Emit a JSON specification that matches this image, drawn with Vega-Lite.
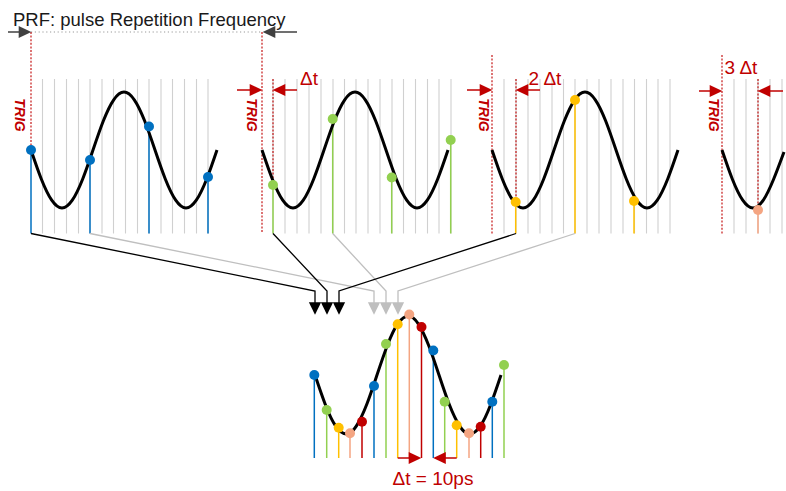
{
  "$schema": "https://vega.github.io/schema/vega-lite/v6.json",
  "width": 786,
  "height": 491,
  "autosize": {"type": "fit", "contains": "padding"},
  "padding": 0,
  "background": "white",
  "config": {"view": {"stroke": null}, "legend": {"disable": true}},
  "resolve": {"scale": {"color": "independent", "shape": "independent"}},
  "datasets": {
    "grid": [
      {"x": 42.5, "y": 79, "y2": 233.5}, {"x": 54.5, "y": 79, "y2": 233.5}, {"x": 66.5, "y": 79, "y2": 233.5}, {"x": 78.5, "y": 79, "y2": 233.5}, {"x": 90, "y": 79, "y2": 233.5}, {"x": 102, "y": 79, "y2": 233.5}, {"x": 113.5, "y": 79, "y2": 233.5}, {"x": 125.5, "y": 79, "y2": 233.5}, {"x": 137.5, "y": 79, "y2": 233.5}, {"x": 149, "y": 79, "y2": 233.5}, {"x": 161, "y": 79, "y2": 233.5}, {"x": 172.5, "y": 79, "y2": 233.5}, {"x": 184.5, "y": 79, "y2": 233.5}, {"x": 196.5, "y": 79, "y2": 233.5}, {"x": 208, "y": 79, "y2": 233.5},
      {"x": 273, "y": 79, "y2": 233.5}, {"x": 285, "y": 79, "y2": 233.5}, {"x": 297, "y": 79, "y2": 233.5}, {"x": 309, "y": 79, "y2": 233.5}, {"x": 321, "y": 79, "y2": 233.5}, {"x": 333, "y": 79, "y2": 233.5}, {"x": 344.5, "y": 79, "y2": 233.5}, {"x": 356, "y": 79, "y2": 233.5}, {"x": 368, "y": 79, "y2": 233.5}, {"x": 380, "y": 79, "y2": 233.5}, {"x": 392, "y": 79, "y2": 233.5}, {"x": 403.5, "y": 79, "y2": 233.5}, {"x": 415.5, "y": 79, "y2": 233.5}, {"x": 427.5, "y": 79, "y2": 233.5}, {"x": 439, "y": 79, "y2": 233.5}, {"x": 451, "y": 79, "y2": 233.5},
      {"x": 504, "y": 79, "y2": 233.5}, {"x": 516, "y": 79, "y2": 233.5}, {"x": 528, "y": 79, "y2": 233.5}, {"x": 540, "y": 79, "y2": 233.5}, {"x": 552, "y": 79, "y2": 233.5}, {"x": 563.5, "y": 79, "y2": 233.5}, {"x": 575, "y": 79, "y2": 233.5}, {"x": 587, "y": 79, "y2": 233.5}, {"x": 599, "y": 79, "y2": 233.5}, {"x": 611, "y": 79, "y2": 233.5}, {"x": 623, "y": 79, "y2": 233.5}, {"x": 634.5, "y": 79, "y2": 233.5}, {"x": 646.5, "y": 79, "y2": 233.5}, {"x": 658, "y": 79, "y2": 233.5}, {"x": 670, "y": 79, "y2": 233.5},
      {"x": 734, "y": 79, "y2": 233.5}, {"x": 746, "y": 79, "y2": 233.5}, {"x": 758, "y": 79, "y2": 233.5}, {"x": 770, "y": 79, "y2": 233.5}, {"x": 782, "y": 79, "y2": 233.5}
    ],
    "trigLines": [
      {"x": 31, "y": 32, "y2": 150},
      {"x": 262, "y": 32, "y2": 233.5},
      {"x": 273, "y": 79, "y2": 185},
      {"x": 492, "y": 55, "y2": 233.5},
      {"x": 516, "y": 79, "y2": 202},
      {"x": 722, "y": 55, "y2": 233.5},
      {"x": 758, "y": 79, "y2": 210}
    ],
    "prf": [{"x": 31, "x2": 262, "y": 32}],
    "samples": [
      {"pulse": "pulse 1", "x": 31, "y": 150, "base": 233.5},
      {"pulse": "pulse 1", "x": 90, "y": 160, "base": 233.5},
      {"pulse": "pulse 1", "x": 149, "y": 126.5, "base": 233.5},
      {"pulse": "pulse 1", "x": 208, "y": 177, "base": 233.5},
      {"pulse": "pulse 2", "x": 273, "y": 185, "base": 233.5},
      {"pulse": "pulse 2", "x": 332.7, "y": 119, "base": 233.5},
      {"pulse": "pulse 2", "x": 391.7, "y": 177.5, "base": 233.5},
      {"pulse": "pulse 2", "x": 450.7, "y": 140, "base": 233.5},
      {"pulse": "pulse 3", "x": 515.7, "y": 202, "base": 233.5},
      {"pulse": "pulse 3", "x": 575, "y": 100, "base": 233.5},
      {"pulse": "pulse 3", "x": 634, "y": 201, "base": 233.5},
      {"pulse": "pulse 4", "x": 758, "y": 210, "base": 233.5},
      {"pulse": "pulse 1", "x": 314.3, "y": 375, "base": 458},
      {"pulse": "pulse 2", "x": 326.7, "y": 410, "base": 458},
      {"pulse": "pulse 3", "x": 338.7, "y": 427.7, "base": 458},
      {"pulse": "pulse 4", "x": 350, "y": 433.3, "base": 458},
      {"pulse": "pulse 5", "x": 362, "y": 421.7, "base": 458},
      {"pulse": "pulse 1", "x": 374, "y": 386, "base": 458},
      {"pulse": "pulse 2", "x": 386, "y": 344, "base": 458},
      {"pulse": "pulse 3", "x": 397.7, "y": 324.3, "base": 458},
      {"pulse": "pulse 4", "x": 409.3, "y": 314.5, "base": 458},
      {"pulse": "pulse 5", "x": 421.5, "y": 327, "base": 458},
      {"pulse": "pulse 1", "x": 433.3, "y": 350.5, "base": 458},
      {"pulse": "pulse 2", "x": 444.7, "y": 401.7, "base": 458},
      {"pulse": "pulse 3", "x": 456.7, "y": 425.3, "base": 458},
      {"pulse": "pulse 4", "x": 469, "y": 433.3, "base": 458},
      {"pulse": "pulse 5", "x": 480.7, "y": 426.7, "base": 458},
      {"pulse": "pulse 1", "x": 492.3, "y": 401.7, "base": 458},
      {"pulse": "pulse 2", "x": 504, "y": 365, "base": 458}
    ],
    "links": [
      {"route": "a", "tone": "black", "step": 1, "x": 31, "y": 233.5},
      {"route": "a", "tone": "black", "step": 2, "x": 315, "y": 291},
      {"route": "a", "tone": "black", "step": 3, "x": 315, "y": 303},
      {"route": "b", "tone": "black", "step": 1, "x": 273, "y": 233.5},
      {"route": "b", "tone": "black", "step": 2, "x": 327, "y": 291},
      {"route": "b", "tone": "black", "step": 3, "x": 327, "y": 303},
      {"route": "c", "tone": "black", "step": 1, "x": 516, "y": 233.5},
      {"route": "c", "tone": "black", "step": 2, "x": 339, "y": 291},
      {"route": "c", "tone": "black", "step": 3, "x": 339, "y": 303},
      {"route": "d", "tone": "gray", "step": 1, "x": 90, "y": 233.5},
      {"route": "d", "tone": "gray", "step": 2, "x": 374, "y": 291},
      {"route": "d", "tone": "gray", "step": 3, "x": 374, "y": 303},
      {"route": "e", "tone": "gray", "step": 1, "x": 332.7, "y": 233.5},
      {"route": "e", "tone": "gray", "step": 2, "x": 386, "y": 291},
      {"route": "e", "tone": "gray", "step": 3, "x": 386, "y": 303},
      {"route": "f", "tone": "gray", "step": 1, "x": 575, "y": 233.5},
      {"route": "f", "tone": "gray", "step": 2, "x": 398, "y": 291},
      {"route": "f", "tone": "gray", "step": 3, "x": 398, "y": 303}
    ],
    "shafts": [
      {"tone": "dark", "x": 8, "x2": 28, "y": 32},
      {"tone": "dark", "x": 266, "x2": 297, "y": 32},
      {"tone": "red", "x": 237, "x2": 258, "y": 90},
      {"tone": "red", "x": 277, "x2": 297, "y": 90},
      {"tone": "red", "x": 467, "x2": 488, "y": 90},
      {"tone": "red", "x": 520, "x2": 540, "y": 90},
      {"tone": "red", "x": 699, "x2": 718, "y": 91},
      {"tone": "red", "x": 762, "x2": 783, "y": 91},
      {"tone": "red", "x": 397.7, "x2": 417, "y": 458},
      {"tone": "red", "x": 437, "x2": 456.7, "y": 458}
    ],
    "heads": [
      {"tone": "dark", "dir": "right", "x": 25, "y": 32},
      {"tone": "dark", "dir": "left", "x": 269, "y": 32},
      {"tone": "red", "dir": "right", "x": 256, "y": 90},
      {"tone": "red", "dir": "left", "x": 279, "y": 90},
      {"tone": "red", "dir": "right", "x": 486, "y": 90},
      {"tone": "red", "dir": "left", "x": 522, "y": 90},
      {"tone": "red", "dir": "right", "x": 716, "y": 91},
      {"tone": "red", "dir": "left", "x": 764, "y": 91},
      {"tone": "red", "dir": "right", "x": 415, "y": 458},
      {"tone": "red", "dir": "left", "x": 439.5, "y": 458},
      {"tone": "black", "dir": "down", "x": 315, "y": 308.5},
      {"tone": "black", "dir": "down", "x": 327, "y": 308.5},
      {"tone": "black", "dir": "down", "x": 339, "y": 308.5},
      {"tone": "light", "dir": "down", "x": 374, "y": 308.5},
      {"tone": "light", "dir": "down", "x": 386, "y": 308.5},
      {"tone": "light", "dir": "down", "x": 398, "y": 308.5}
    ],
    "waves": [
      {"trace": "w1", "x": 31, "y": 150}, {"trace": "w1", "x": 41.3, "y": 179}, {"trace": "w1", "x": 51.7, "y": 200.2}, {"trace": "w1", "x": 62, "y": 208}, {"trace": "w1", "x": 72.3, "y": 200.2}, {"trace": "w1", "x": 82.7, "y": 179}, {"trace": "w1", "x": 93, "y": 150}, {"trace": "w1", "x": 103.3, "y": 121}, {"trace": "w1", "x": 113.7, "y": 99.8}, {"trace": "w1", "x": 124, "y": 92}, {"trace": "w1", "x": 134.3, "y": 99.8}, {"trace": "w1", "x": 144.7, "y": 121}, {"trace": "w1", "x": 155, "y": 150}, {"trace": "w1", "x": 165.3, "y": 179}, {"trace": "w1", "x": 175.7, "y": 200.2}, {"trace": "w1", "x": 186, "y": 208}, {"trace": "w1", "x": 196.3, "y": 200.2}, {"trace": "w1", "x": 206.7, "y": 179}, {"trace": "w1", "x": 217, "y": 150},
      {"trace": "w2", "x": 262, "y": 150}, {"trace": "w2", "x": 272.3, "y": 179}, {"trace": "w2", "x": 282.7, "y": 200.2}, {"trace": "w2", "x": 293, "y": 208}, {"trace": "w2", "x": 303.3, "y": 200.2}, {"trace": "w2", "x": 313.7, "y": 179}, {"trace": "w2", "x": 324, "y": 150}, {"trace": "w2", "x": 334.3, "y": 121}, {"trace": "w2", "x": 344.7, "y": 99.8}, {"trace": "w2", "x": 355, "y": 92}, {"trace": "w2", "x": 365.3, "y": 99.8}, {"trace": "w2", "x": 375.7, "y": 121}, {"trace": "w2", "x": 386, "y": 150}, {"trace": "w2", "x": 396.3, "y": 179}, {"trace": "w2", "x": 406.7, "y": 200.2}, {"trace": "w2", "x": 417, "y": 208}, {"trace": "w2", "x": 427.3, "y": 200.2}, {"trace": "w2", "x": 437.7, "y": 179}, {"trace": "w2", "x": 448, "y": 150},
      {"trace": "w3", "x": 492, "y": 150}, {"trace": "w3", "x": 502.3, "y": 179}, {"trace": "w3", "x": 512.7, "y": 200.2}, {"trace": "w3", "x": 523, "y": 208}, {"trace": "w3", "x": 533.3, "y": 200.2}, {"trace": "w3", "x": 543.7, "y": 179}, {"trace": "w3", "x": 554, "y": 150}, {"trace": "w3", "x": 564.3, "y": 121}, {"trace": "w3", "x": 574.7, "y": 99.8}, {"trace": "w3", "x": 585, "y": 92}, {"trace": "w3", "x": 595.3, "y": 99.8}, {"trace": "w3", "x": 605.7, "y": 121}, {"trace": "w3", "x": 616, "y": 150}, {"trace": "w3", "x": 626.3, "y": 179}, {"trace": "w3", "x": 636.7, "y": 200.2}, {"trace": "w3", "x": 647, "y": 208}, {"trace": "w3", "x": 657.3, "y": 200.2}, {"trace": "w3", "x": 667.7, "y": 179}, {"trace": "w3", "x": 678, "y": 150},
      {"trace": "w4", "x": 722, "y": 150}, {"trace": "w4", "x": 732.3, "y": 179}, {"trace": "w4", "x": 742.7, "y": 200.2}, {"trace": "w4", "x": 753, "y": 208}, {"trace": "w4", "x": 763.3, "y": 200.2}, {"trace": "w4", "x": 773.7, "y": 179}, {"trace": "w4", "x": 784, "y": 152},
      {"trace": "w5", "x": 315, "y": 375}, {"trace": "w5", "x": 325.3, "y": 404.5}, {"trace": "w5", "x": 335.7, "y": 426.1}, {"trace": "w5", "x": 346.5, "y": 434}, {"trace": "w5", "x": 356.3, "y": 426.1}, {"trace": "w5", "x": 366.7, "y": 404.5}, {"trace": "w5", "x": 377, "y": 375}, {"trace": "w5", "x": 387.3, "y": 345.5}, {"trace": "w5", "x": 397.7, "y": 323.9}, {"trace": "w5", "x": 408.5, "y": 316}, {"trace": "w5", "x": 418.3, "y": 323.9}, {"trace": "w5", "x": 428.7, "y": 345.5}, {"trace": "w5", "x": 439, "y": 375}, {"trace": "w5", "x": 449.3, "y": 404.5}, {"trace": "w5", "x": 459.7, "y": 426.1}, {"trace": "w5", "x": 469.5, "y": 434}, {"trace": "w5", "x": 480.3, "y": 426.1}, {"trace": "w5", "x": 490.7, "y": 404.5}, {"trace": "w5", "x": 501, "y": 375}
    ],
    "labels": [
      {"role": "title", "text": "PRF: pulse Repetition Frequency", "x": 13, "y": 26},
      {"role": "trig", "text": "TRIG", "x": 19, "y": 115},
      {"role": "trig", "text": "TRIG", "x": 251, "y": 115},
      {"role": "trig", "text": "TRIG", "x": 483, "y": 115},
      {"role": "trig", "text": "TRIG", "x": 713, "y": 115},
      {"role": "delta", "text": "Δt", "x": 309, "y": 85},
      {"role": "delta", "text": "2 Δt", "x": 545, "y": 85},
      {"role": "delta", "text": "3 Δt", "x": 741, "y": 73.5},
      {"role": "delta", "text": "Δt = 10ps", "x": 433, "y": 485}
    ]
  },
  "encoding": {
    "x": {"field": "x", "type": "quantitative", "scale": {"domain": [0, 786], "nice": false, "zero": false}, "axis": null},
    "y": {"field": "y", "type": "quantitative", "scale": {"domain": [0, 491], "nice": false, "zero": false, "reverse": true}, "axis": null}
  },
  "layer": [
    {
      "data": {"name": "grid"},
      "mark": {"type": "rule", "stroke": "#D0D0D0", "strokeWidth": 1.1},
      "encoding": {"y2": {"field": "y2"}}
    },
    {
      "data": {"name": "prf"},
      "mark": {"type": "rule", "stroke": "#9A9A9A", "strokeWidth": 1.1, "strokeDash": [1.2, 2.6]},
      "encoding": {"x2": {"field": "x2"}}
    },
    {
      "data": {"name": "trigLines"},
      "mark": {"type": "rule", "stroke": "#C00000", "strokeWidth": 1.1, "strokeDash": [2, 1.6]},
      "encoding": {"y2": {"field": "y2"}}
    },
    {
      "data": {"name": "samples"},
      "mark": {"type": "rule", "strokeWidth": 1.5},
      "encoding": {
        "y2": {"field": "base"},
        "color": {"field": "pulse", "type": "nominal", "legend": null,
          "scale": {"domain": ["pulse 1", "pulse 2", "pulse 3", "pulse 4", "pulse 5"], "range": ["#0070C0", "#92D050", "#FFC000", "#F4A582", "#C00000"]}}
      }
    },
    {
      "data": {"name": "links"},
      "transform": [{"filter": "datum.tone === 'gray'"}],
      "mark": {"type": "line", "stroke": "#BFBFBF", "strokeWidth": 1.3},
      "encoding": {"detail": {"field": "route", "type": "nominal"}, "order": {"field": "step", "type": "quantitative"}}
    },
    {
      "data": {"name": "links"},
      "transform": [{"filter": "datum.tone === 'black'"}],
      "mark": {"type": "line", "stroke": "#000000", "strokeWidth": 1.3},
      "encoding": {"detail": {"field": "route", "type": "nominal"}, "order": {"field": "step", "type": "quantitative"}}
    },
    {
      "data": {"name": "shafts"},
      "mark": {"type": "rule", "strokeWidth": 1.5},
      "encoding": {
        "x2": {"field": "x2"},
        "color": {"field": "tone", "type": "nominal", "legend": null,
          "scale": {"domain": ["dark", "red"], "range": ["#404040", "#C00000"]}}
      }
    },
    {
      "data": {"name": "heads"},
      "mark": {"type": "point", "filled": true, "size": 160, "opacity": 1, "strokeWidth": 0},
      "encoding": {
        "shape": {"field": "dir", "type": "nominal", "legend": null,
          "scale": {"domain": ["right", "left", "down"], "range": ["M-1,-0.95L1,0L-1,0.95Z", "M1,-0.95L-1,0L1,0.95Z", "M-0.97,-1L0.97,-1L0,1Z"]}},
        "color": {"field": "tone", "type": "nominal", "legend": null,
          "scale": {"domain": ["dark", "red", "black", "light"], "range": ["#404040", "#C00000", "#000000", "#BFBFBF"]}}
      }
    },
    {
      "data": {"name": "waves"},
      "mark": {"type": "line", "stroke": "#000000", "strokeWidth": 3, "interpolate": "natural", "clip": true},
      "encoding": {"detail": {"field": "trace", "type": "nominal"}}
    },
    {
      "data": {"name": "samples"},
      "mark": {"type": "point", "filled": true, "shape": "circle", "size": 100, "opacity": 1, "strokeWidth": 0},
      "encoding": {
        "color": {"field": "pulse", "type": "nominal", "legend": null,
          "scale": {"domain": ["pulse 1", "pulse 2", "pulse 3", "pulse 4", "pulse 5"], "range": ["#0070C0", "#92D050", "#FFC000", "#F4A582", "#C00000"]}}
      }
    },
    {
      "data": {"name": "labels"},
      "transform": [{"filter": "datum.role === 'title'"}],
      "mark": {"type": "text", "align": "left", "baseline": "alphabetic", "font": "Liberation Sans", "fontSize": 18.5, "color": "#1A1A1A"},
      "encoding": {"text": {"field": "text"}}
    },
    {
      "data": {"name": "labels"},
      "transform": [{"filter": "datum.role === 'trig'"}],
      "mark": {"type": "text", "align": "center", "baseline": "middle", "angle": 90, "font": "Liberation Sans", "fontSize": 14, "fontWeight": "bold", "fontStyle": "italic", "color": "#C00000"},
      "encoding": {"text": {"field": "text"}}
    },
    {
      "data": {"name": "labels"},
      "transform": [{"filter": "datum.role === 'delta'"}],
      "mark": {"type": "text", "align": "center", "baseline": "alphabetic", "font": "Liberation Sans", "fontSize": 19, "color": "#C00000"},
      "encoding": {"text": {"field": "text"}}
    }
  ]
}
